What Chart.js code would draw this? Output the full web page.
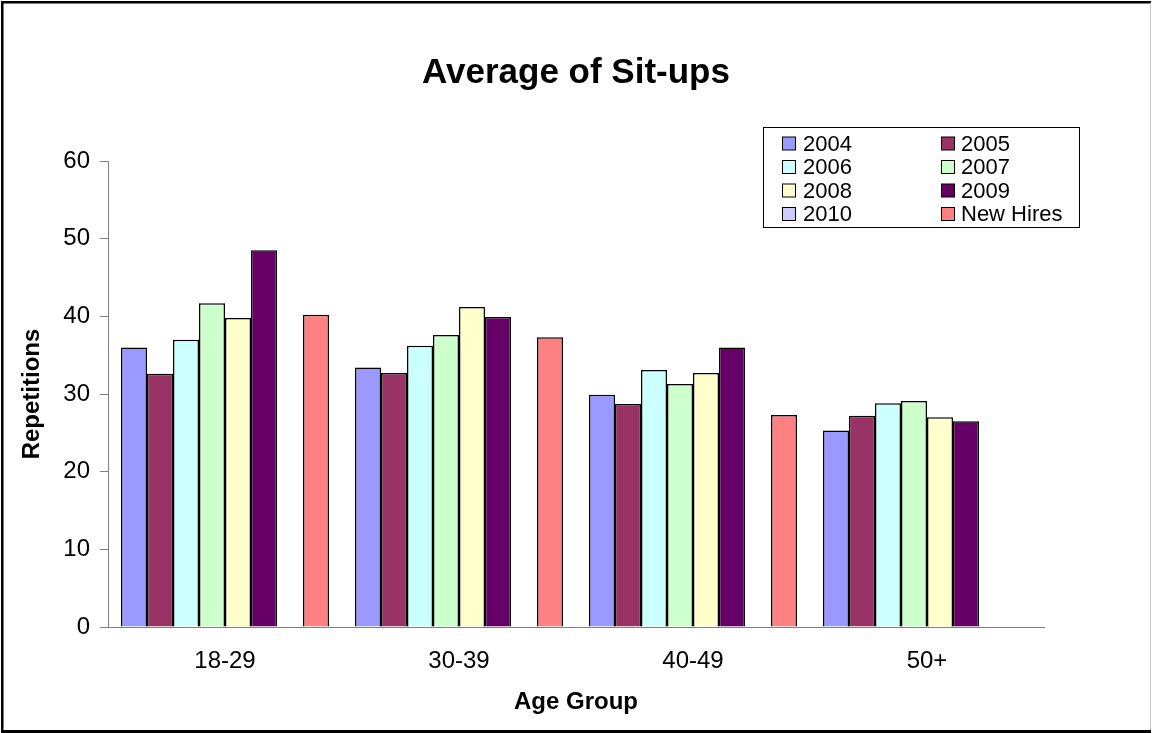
<!DOCTYPE html>
<html><head><meta charset="utf-8">
<script src="https://cdn.jsdelivr.net/npm/chart.js@4/dist/chart.umd.min.js"></script>
<style>html,body{margin:0;padding:0;background:#fff;overflow:hidden}canvas{display:block}</style>
</head><body>
<canvas id="c" width="1152" height="733"></canvas>
<script>
const categories = ['18-29', '30-39', '40-49', '50+'];
const seriesNames = ['2004', '2005', '2006', '2007', '2008', '2009', '2010', 'New Hires'];
const v2004 = [36.0, 33.4, 29.9, 25.3];
const v2005 = [32.6, 32.7, 28.7, 27.2];
const v2006 = [37.0, 36.2, 33.1, 28.8];
const v2007 = [41.7, 37.6, 31.3, 29.1];
const v2008 = [39.8, 41.2, 32.7, 27.0];
const v2009 = [48.5, 39.9, 36.0, 26.5];
const v2010 = [null, null, null, null];
const vNewHires = [40.2, 37.3, 27.3, null];
const yTicks = [0, 10, 20, 30, 40, 50, 60];
const colors = ['#9999FF', '#993366', '#CCFFFF', '#CCFFCC', '#FFFFCC', '#660066', '#CCCCFF', '#FF8080'];

const seriesValues = [v2004, v2005, v2006, v2007, v2008, v2009, v2010, vNewHires];
const FONT = '"Liberation Sans", Arial, sans-serif';

const datasets = seriesNames.map((n, i) => ({
  label: n,
  data: seriesValues[i],
  backgroundColor: colors[i],
  borderColor: '#000',
  borderWidth: 1.5,
  categoryPercentage: 8 / 9,
  barPercentage: 1
}));

const framePlugin = {
  id: 'frame',
  beforeDraw(chart) {
    const ctx = chart.ctx;
    ctx.save();
    ctx.fillStyle = '#fff';
    ctx.fillRect(0, 0, chart.width, chart.height);
    ctx.restore();
  },
  afterDraw(chart) {
    const ctx = chart.ctx;
    ctx.save();
    ctx.fillStyle = '#000';
    ctx.fillRect(1, 1, 1150, 2.5);
    ctx.fillRect(1, 1, 2.5, 731);
    ctx.fillRect(1, 730, 1150, 3);
    ctx.fillStyle = '#c8c8c8';
    ctx.fillRect(1150, 3, 1, 727);
    ctx.restore();
  }
};

const legendPlugin = {
  id: 'gridLegend',
  afterDraw(chart) {
    const ctx = chart.ctx;
    ctx.save();
    ctx.strokeStyle = '#000';
    ctx.lineWidth = 1;
    ctx.strokeRect(763.5, 127.5, 316, 100);
    ctx.font = '22px ' + FONT;
    ctx.textBaseline = 'middle';
    ctx.textAlign = 'left';
    chart.data.datasets.forEach((ds, i) => {
      const col = i % 2, row = Math.floor(i / 2);
      const sx = col ? 941.5 : 782.5;
      const cy = 143.5 + row * 23.5;
      ctx.fillStyle = ds.backgroundColor;
      ctx.fillRect(sx, cy - 6.5, 13, 13);
      ctx.strokeStyle = '#000';
      ctx.strokeRect(sx, cy - 6.5, 13, 13);
      ctx.fillStyle = '#000';
      ctx.fillText(ds.label, col ? 961 : 803, cy + 1);
    });
    ctx.restore();
  }
};

new Chart(document.getElementById('c'), {
  type: 'bar',
  data: { labels: categories, datasets },
  plugins: [framePlugin, legendPlugin],
  options: {
    responsive: false,
    animation: false,
    events: [],
    layout: { padding: { left: 0, right: 0, top: 0, bottom: 0 } },
    plugins: {
      legend: { display: false },
      tooltip: { enabled: false },
      title: {
        display: true,
        text: 'Average of Sit-ups',
        color: '#000',
        font: { family: FONT, size: 35, weight: 'bold' },
        padding: { top: 52, bottom: 67 }
      }
    },
    scales: {
      x: {
        grid: { display: false, drawTicks: false },
        border: { display: true, color: '#808080', width: 1 },
        ticks: { color: '#000', font: { family: FONT, size: 24 }, padding: 20 },
        title: {
          display: true, text: 'Age Group', color: '#000',
          font: { family: FONT, size: 24, weight: 'bold' },
          padding: { top: 0, bottom: 16 }
        },
        afterFit(s) { s.height = 106; }
      },
      y: {
        min: 0, max: 60,
        afterBuildTicks(s) { s.ticks = yTicks.map(v => ({ value: v })); },
        grid: { display: true, drawOnChartArea: false, drawTicks: true, tickLength: 8, color: '#808080' },
        border: { display: true, color: '#808080', width: 1 },
        ticks: { color: '#000', font: { family: FONT, size: 24 }, padding: 10 },
        title: {
          display: true, text: 'Repetitions', color: '#000',
          font: { family: FONT, size: 24, weight: 'bold' },
          padding: { top: 18, bottom: 0 }
        },
        afterFit(s) { s.width = 108; }
      },
      yRight: {
        position: 'right',
        display: true,
        grid: { display: false, drawTicks: false },
        border: { display: false },
        ticks: { display: false },
        afterFit(s) { s.width = 108; }
      }
    }
  }
});
</script>
</body></html>
